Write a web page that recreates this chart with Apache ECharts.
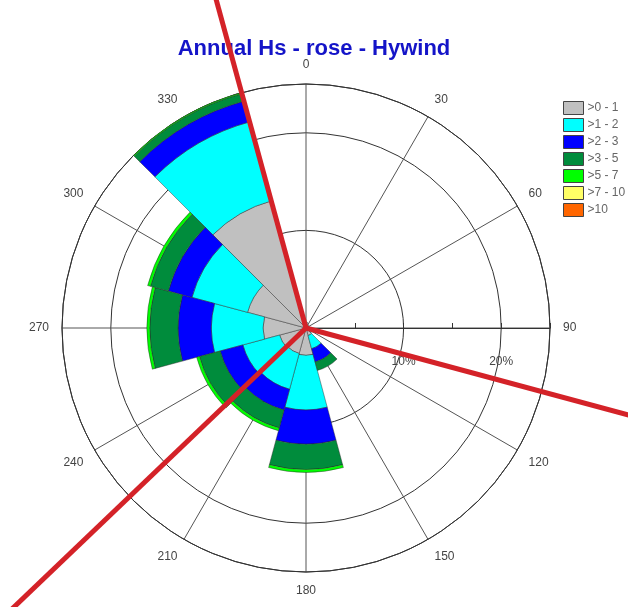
<!DOCTYPE html>
<html>
<head>
<meta charset="utf-8">
<script src="https://cdn.jsdelivr.net/npm/echarts@6/dist/echarts.min.js"></script>
<style>
  html, body { margin: 0; padding: 0; background: #fff; }
  #chart { width: 628px; height: 607px; }
</style>
</head>
<body>
<div id="chart"></div>
<script>
// Direction sectors (degrees, 30-degree bins centred on each value)
const sectors = ['0', '30', '60', '90', '120', '150', '180', '210', '240', '270', '300', '330'];

// Occurrence (%) per Hs class, one value per sector
const hs0to1  = [0.5, 0.4, 0.3, 0.4, 0.5, 0.8, 2.8, 2.7, 2.8, 4.4, 6.2, 13.5];
const hs1to2  = [0.1, 0,   0,   0,   0.2, 1.4, 5.6, 3.8, 3.9, 5.3, 5.9, 8.4];
const hs2to3  = [0,   0,   0,   0,   0,   1.4, 3.5, 2.2, 2.4, 3.4, 2.5, 2.2];
const hs3to5  = [0,   0,   0,   0,   0,   0.9, 2.6, 1.9, 2.2, 2.9, 1.9, 0.8];
const hs5to7  = [0,   0,   0,   0,   0,   0,   0.3, 0.3, 0.3, 0.3, 0.3, 0.1];
const hs7to10 = [0,   0,   0,   0,   0,   0,   0,   0,   0,   0,   0,   0];
const hsOver10 = [0,  0,   0,   0,   0,   0,   0,   0,   0,   0,   0,   0];

const classNames = ['>0 - 1', '>1 - 2', '>2 - 3', '>3 - 5', '>5 - 7', '>7 - 10', '>10'];
const classValues = [hs0to1, hs1to2, hs2to3, hs3to5, hs5to7, hs7to10, hsOver10];

// Radial scale (%) and its labelled rings
const radiusMax = 25;
const ringLabels = [10, 20];

// Bearings (degrees from north) of the highlighted directions
const markedBearings = [344.7, 105.1, 226.3];

const classColors = ['#c0c0c0', '#00ffff', '#0000ff', '#008c3c', '#00ff00', '#ffff66', '#ff6600'];
const FONT = 'Liberation Sans, Arial, sans-serif';

const chart = echarts.init(document.getElementById('chart'));

const center = [306, 328];
const radius = 244;

// bearing -> angle value on a polar that starts at east and runs clockwise
const toGridAngle = b => ((b - 90) % 360 + 360) % 360;

const barSeries = classNames.map((name, i) => ({
  name: name,
  type: 'bar',
  coordinateSystem: 'polar',
  polarIndex: 1,
  stack: 'hs',
  barCategoryGap: '0%',
  itemStyle: {
    color: classColors[i],
    borderColor: 'rgba(40,40,40,0.75)',
    borderWidth: 0.6
  },
  emphasis: { disabled: true },
  data: classValues[i].map(v => (v > 0 ? v : null))
}));

// Direction lines run out to the edge of the page on a wider polar
const lineSeries = markedBearings.map((b, i) => ({
  name: 'dir' + i,
  type: 'line',
  coordinateSystem: 'polar',
  polarIndex: 2,
  clip: false,
  symbol: 'none',
  silent: true,
  z: 10,
  lineStyle: { color: '#d42228', width: 5 },
  data: [[0, toGridAngle(b)], [1, toGridAngle(b)]]
}));

const hidden = {
  axisLine: { show: false },
  axisTick: { show: false },
  axisLabel: { show: false },
  splitLine: { show: false }
};

chart.setOption({
  animation: false,
  backgroundColor: '#ffffff',
  title: {
    text: 'Annual Hs - rose - Hywind',
    left: 'center',
    top: 33,
    textStyle: { fontFamily: FONT, fontSize: 22, fontWeight: 'bold', color: '#1414c8' }
  },
  legend: {
    data: classNames,
    orient: 'vertical',
    left: 563,
    top: 101,
    padding: 0,
    itemWidth: 20,
    itemHeight: 13,
    itemGap: 3,
    icon: 'rect',
    selectedMode: false,
    itemStyle: { borderColor: '#444', borderWidth: 1 },
    textStyle: { fontFamily: FONT, fontSize: 12, color: '#666', padding: [0, 0, 0, -1] }
  },
  polar: [
    { center: center, radius: radius },
    { center: center, radius: radius },
    { center: center, radius: 440 }
  ],
  angleAxis: [
    {
      polarIndex: 0,
      type: 'value',
      min: 0,
      max: 360,
      interval: 30,
      startAngle: 0,
      clockwise: true,
      axisLine: { show: true, lineStyle: { color: '#333', width: 1 } },
      axisTick: { show: false },
      splitLine: { show: true, lineStyle: { color: '#555', width: 1 } },
      axisLabel: {
        margin: 13,
        align: 'center',
        verticalAlign: 'middle',
        fontFamily: FONT,
        fontSize: 12,
        color: '#444',
        formatter: v => (v >= 360 ? '' : String((v + 90) % 360))
      }
    },
    Object.assign({
      polarIndex: 1,
      type: 'category',
      data: sectors,
      startAngle: 105,
      clockwise: true
    }, hidden),
    Object.assign({
      polarIndex: 2,
      type: 'value',
      min: 0,
      max: 360,
      startAngle: 0,
      clockwise: true
    }, hidden)
  ],
  radiusAxis: [
    {
      polarIndex: 0,
      type: 'value',
      min: 0,
      max: radiusMax,
      interval: 5,
      axisLine: { show: true, lineStyle: { color: '#333', width: 1 } },
      axisTick: { show: true, length: 5, lineStyle: { color: '#333' } },
      splitLine: { show: false },
      axisLabel: {
        margin: -40,
        fontFamily: FONT,
        fontSize: 12,
        color: '#444',
        formatter: v => (ringLabels.indexOf(v) >= 0 ? v + '%' : '')
      }
    },
    {
      polarIndex: 1,
      type: 'value',
      min: 0,
      max: radiusMax,
      interval: 10,
      axisLine: { show: false },
      axisTick: { show: false },
      axisLabel: { show: false },
      splitLine: { show: true, lineStyle: { color: '#333', width: 1 } }
    },
    Object.assign({
      polarIndex: 2,
      type: 'value',
      min: 0,
      max: 1
    }, hidden)
  ],
  series: barSeries.concat(lineSeries)
});
</script>
</body>
</html>
